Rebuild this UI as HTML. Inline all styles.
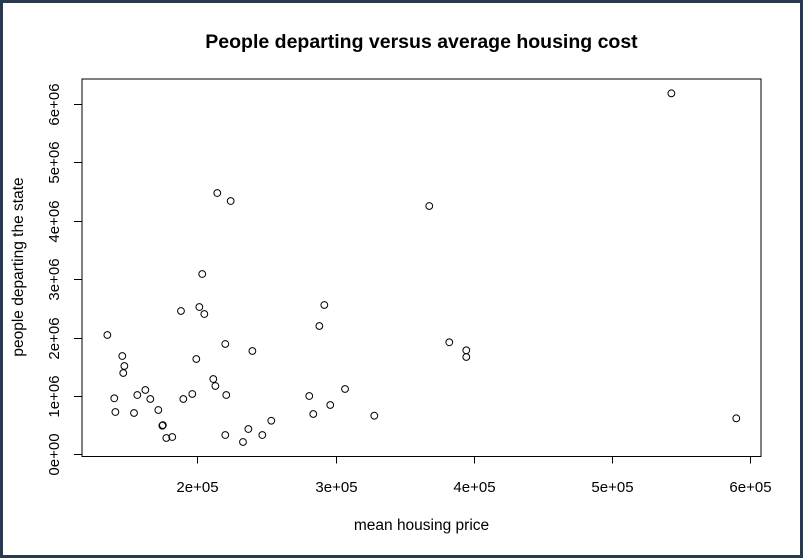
<!DOCTYPE html>
<html><head><meta charset="utf-8"><style>
html,body{margin:0;padding:0;background:#fff;}
#frame{position:absolute;left:0;top:0;width:797px;height:552px;border:3px solid #243b52;background:#fff;}
svg{position:absolute;left:0;top:0;}
text{font-family:"Liberation Sans",Arial,sans-serif;fill:#000;}
</style></head><body>
<div id="frame"></div>
<svg id="chart" width="803" height="558"></svg>
<script>
const xValues=[134800,145600,147100,146300,139800,140600,154100,156500,162300,165900,171700,174600,175000,177500,181800,188100,189800,196300,199200,201400,205000,203500,214400,224100,211500,213000,220200,220900,220200,233000,236900,239800,247000,253500,281000,283900,288300,291900,296200,306900,328100,367900,382400,394700,394700,543200,590200];
const yValues=[2043000,1683000,1512000,1392000,959000,724000,707000,1015000,1101000,947000,759000,490000,500000,279000,296000,2454000,947000,1033000,1632000,2522000,2402000,3087000,4474000,4337000,1289000,1170000,1889000,1015000,330000,211000,433000,1769000,330000,575000,998000,690000,2197000,2557000,844000,1118000,661000,4252000,1918000,1781000,1666000,6181000,616000];
const xTicks=[200000,300000,400000,500000,600000];
const xTickLabels=["2e+05","3e+05","4e+05","5e+05","6e+05"];
const yTicks=[0,1000000,2000000,3000000,4000000,5000000,6000000];
const yTickLabels=["0e+00","1e+06","2e+06","3e+06","4e+06","5e+06","6e+06"];

const NS="http://www.w3.org/2000/svg";
const svg=document.getElementById('chart');
const box={l:82,r:761,t:79,b:456.5};
function sx(v){return 197.4+(v-200000)*138.1/100000;}
function sy(v){return 454.3-v*58.4/1000000;}
function mk(tag,attrs,parent){const e=document.createElementNS(NS,tag);for(const k in attrs)e.setAttribute(k,attrs[k]);(parent||svg).appendChild(e);return e;}

const rect=mk('rect',{x:box.l,y:box.t,width:box.r-box.l,height:box.b-box.t,fill:'none',stroke:'#000','stroke-width':1});



const title=mk('text',{x:421.5,y:48,'text-anchor':'middle','font-size':'19.5','font-weight':'bold'});
title.textContent='People departing versus average housing cost';



const xt=mk('text',{x:421.5,y:530,'text-anchor':'middle','font-size':'15.5'});
xt.textContent='mean housing price';



const yt=mk('text',{x:0,y:0,'text-anchor':'middle','font-size':'15.5',transform:'translate(23,267) rotate(-90)'});
yt.textContent='people departing the state';



const xAxis=mk('g',{});


mk('line',{x1:sx(xTicks[0]),x2:sx(xTicks[xTicks.length-1]),y1:box.b,y2:box.b,stroke:'#000'},xAxis);
xTicks.forEach((v,i)=>{
  const x=Math.round(sx(v))+0.5;
  const t=mk('line',{x1:x,x2:x,y1:box.b,y2:box.b+7,stroke:'#000'},xAxis);
  
  
  const l=mk('text',{x:x,y:492,'text-anchor':'middle','font-size':'15'},xAxis);
  l.textContent=xTickLabels[i];
  
  
});

const yAxis=mk('g',{});


mk('line',{x1:box.l,x2:box.l,y1:sy(yTicks[0]),y2:sy(yTicks[yTicks.length-1]),stroke:'#000'},yAxis);
yTicks.forEach((v,i)=>{
  const y=Math.round(sy(v))+0.5;
  const t=mk('line',{x1:box.l-8,x2:box.l,y1:y,y2:y,stroke:'#000'},yAxis);
  
  
  const l=mk('text',{x:0,y:0,'text-anchor':'middle','font-size':'15',transform:'translate(59,'+y+') rotate(-90)'},yAxis);
  l.textContent=yTickLabels[i];
  
  
});

const pts=mk('g',{});


xValues.forEach((v,i)=>{
  const c=mk('circle',{cx:sx(v),cy:sy(yValues[i]),r:3.4,fill:'none',stroke:'#000','stroke-width':1},pts);
  
  
});
</script>
</body></html>
